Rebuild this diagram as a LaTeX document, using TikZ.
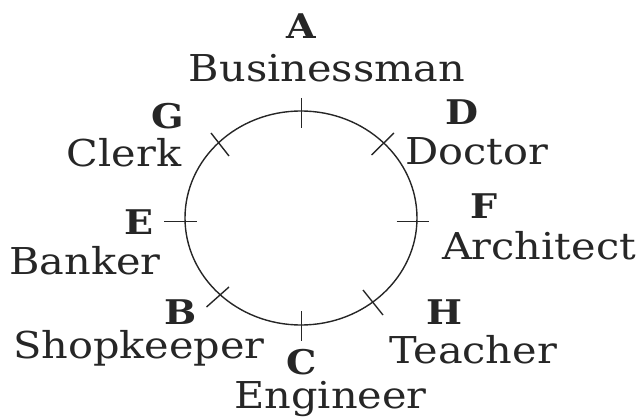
\documentclass[tikz,border=0pt]{standalone}
\usepackage{fontspec}
\setmainfont[FakeStretch=1.12]{DejaVu Serif}
\definecolor{ink}{HTML}{262626}
\begin{document}
\begin{tikzpicture}[x=1pt,y=-1pt,
  role/.style={font=\fontsize{37}{40}\selectfont, text=ink, inner sep=0pt, anchor=base},
  letter/.style={font=\fontsize{34}{36}\selectfont\bfseries, text=ink, inner sep=0pt, anchor=base},
  ring/.style={draw=ink, line width=1.4pt},
  tickmark/.style={draw=ink, line width=1.4pt}]
\useasboundingbox (0,0) rectangle (641,417);
% circle
\draw[ring] (301,218) ellipse [x radius=116pt, y radius=107pt];
% ticks
\coordinate (t1a) at (301.5,98);   \coordinate (t1b) at (301.5,128);
\coordinate (t2a) at (301.5,311.5); \coordinate (t2b) at (301.5,341.5);
\coordinate (t3a) at (164,221.5);  \coordinate (t3b) at (196.5,221.5);
\coordinate (t4a) at (396.5,221.5); \coordinate (t4b) at (429,221.5);
\coordinate (t5a) at (211,133);    \coordinate (t5b) at (229,156);
\coordinate (t6a) at (371.5,155);  \coordinate (t6b) at (394,133);
\coordinate (t7a) at (206.5,307);  \coordinate (t7b) at (229,287);
\coordinate (t8a) at (363,290);    \coordinate (t8b) at (383,315);
\foreach \i in {1,...,8} \draw[tickmark] (t\i a) -- (t\i b);
% labels
\node[letter] (lA) at (301,39) {A};
\node[role] (rA) at (327,81.5) {Businessman};
\node[letter] (lG) at (168,129) {G};
\node[role] (rG) at (124,166.5) {Clerk};
\node[letter] (lD) at (462,125) {D};
\node[role] (rD) at (477,165) {Doctor};
\node[letter] (lE) at (139,235) {E};
\node[role] (rE) at (85,275) {Banker};
\node[letter] (lF) at (484,219) {F};
\node[role] (rF) at (539,260) {Architect};
\node[letter] (lB) at (181,324) {B};
\node[role] (rB) at (139,359) {Shopkeeper};
\node[letter] (lH) at (444,325) {H};
\node[role] (rH) at (473,363.5) {Teacher};
\node[letter] (lC) at (302,374) {C};
\node[role] (rC) at (330.5,409) {Engineer};
\end{tikzpicture}
\end{document}
